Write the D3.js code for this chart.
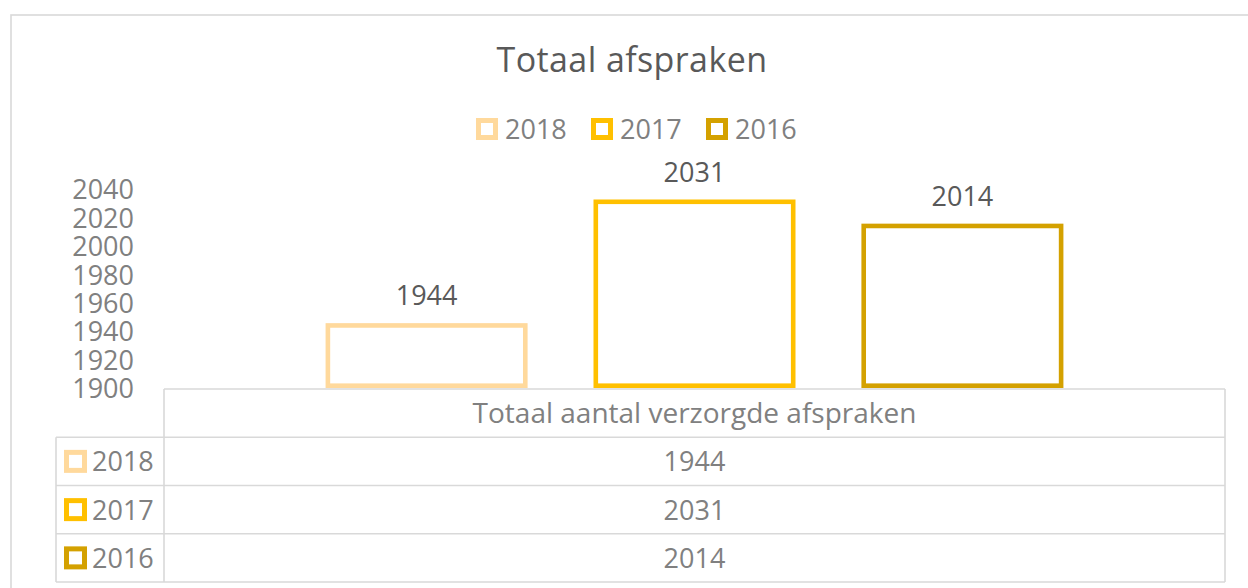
<!DOCTYPE html>
<html>
<head>
<meta charset="utf-8">
<script src="https://cdn.jsdelivr.net/npm/d3@7"></script>
<style>
  html, body { margin: 0; padding: 0; background: #fff; }
  svg { display: block; font-family: "Open Sans", sans-serif; }
</style>
</head>
<body>
<svg id="chart" width="1248" height="588"></svg>
<script>
// ---- data ----
const title = "Totaal afspraken";
const categories = ["Totaal aantal verzorgde afspraken"];
const seriesNames = ["2018", "2017", "2016"];
const seriesValues = [1944, 2031, 2014];
const yTickValues = [1900, 1920, 1940, 1960, 1980, 2000, 2020, 2040];

// ---- styles ----
const seriesColors = ["#FFD99C", "#FFC000", "#D4A100"];
const gridColor = "#D9D9D9";
const axisText = "#808080";
const darkText = "#595959";

const svg = d3.select("#chart");

// outer frame
svg.append("rect")
  .attr("x", 11).attr("y", 15)
  .attr("width", 1260).attr("height", 600)
  .attr("fill", "#fff").attr("stroke", gridColor).attr("stroke-width", 1.6);

// title
svg.append("text")
  .attr("x", 632).attr("y", 72)
  .attr("text-anchor", "middle")
  .attr("fill", darkText)
  .style("font-size", "34px")
  .style("letter-spacing", "0.4px")
  .text(title);

// legend
const legendX = d3.scalePoint().domain(seriesNames).range([476, 706]);
const legend = svg.append("g");
seriesNames.forEach((s, i) => {
  const g = legend.append("g").attr("transform", `translate(${legendX(s)},118)`);
  g.append("rect").attr("x", 2.5).attr("y", 2.5).attr("width", 17).attr("height", 17)
    .attr("fill", "#fff").attr("stroke", seriesColors[i]).attr("stroke-width", 5);
  g.append("text").attr("x", 29).attr("y", 21)
    .attr("fill", axisText).style("font-size", "27px").text(s);
});

// scales
const plotLeft = 164, plotRight = 1225, baseY = 388, topY = 189;
const y = d3.scaleLinear().domain([1900, 2040]).range([baseY, topY]);
const x0 = d3.scaleBand().domain(categories).range([plotLeft, plotRight])
  .paddingInner(0).paddingOuter(0.219);
const x1 = d3.scaleBand().domain(seriesNames).range([0, x0.bandwidth()])
  .paddingInner(0.246).paddingOuter(0);

// y axis (labels only)
const yAxis = d3.axisLeft(y).tickValues(yTickValues).tickFormat(d3.format("d"))
  .tickSize(0).tickPadding(0);
const yG = svg.append("g").attr("transform", "translate(134,0)").call(yAxis);
yG.select(".domain").remove();
yG.selectAll("text")
  .attr("fill", axisText)
  .style("font-size", "27px")
  .style("font-family", "'Open Sans', sans-serif")
  .attr("dy", "0.36em");

// bars
const sw = 4.6;
const barsG = svg.append("g");
categories.forEach(cat => {
  seriesNames.forEach((s, i) => {
    const v = seriesValues[i];
    const bx = x0(cat) + x1(s);
    barsG.append("rect")
      .attr("x", bx + sw / 2)
      .attr("y", y(v))
      .attr("width", x1.bandwidth() - sw)
      .attr("height", y(1900) - y(v) - sw / 2)
      .attr("fill", "#fff")
      .attr("stroke", seriesColors[i])
      .attr("stroke-width", sw);
    barsG.append("text")
      .attr("x", bx + x1.bandwidth() / 2)
      .attr("y", y(v) - 20)
      .attr("text-anchor", "middle")
      .attr("fill", darkText)
      .style("font-size", "27px")
      .text(v);
  });
});

// data table
const tableLeft = 56;
const rowY = d3.scaleBand().domain(["header", ...seriesNames]).range([389, 582]);
const tG = svg.append("g").attr("stroke", gridColor).attr("stroke-width", 1.6).attr("fill", "none");
tG.append("line").attr("x1", plotLeft).attr("x2", plotRight).attr("y1", rowY("header")).attr("y2", rowY("header"));
seriesNames.forEach(s => {
  tG.append("line").attr("x1", tableLeft).attr("x2", plotRight).attr("y1", rowY(s)).attr("y2", rowY(s));
});
tG.append("line").attr("x1", tableLeft).attr("x2", plotRight).attr("y1", 582).attr("y2", 582);
tG.append("line").attr("x1", plotLeft).attr("x2", plotLeft).attr("y1", rowY("header")).attr("y2", 582);
tG.append("line").attr("x1", plotRight).attr("x2", plotRight).attr("y1", rowY("header")).attr("y2", 582);
tG.append("line").attr("x1", tableLeft).attr("x2", tableLeft).attr("y1", rowY(seriesNames[0])).attr("y2", 582);

const rh = rowY.bandwidth();
categories.forEach(cat => {
  svg.append("text")
    .attr("x", x0(cat) + x0.bandwidth() / 2)
    .attr("y", rowY("header") + rh / 2 + 10)
    .attr("text-anchor", "middle")
    .attr("fill", axisText)
    .style("font-size", "28px")
    .text(cat);
});
seriesNames.forEach((s, i) => {
  const cy = rowY(s) + rh / 2;
  svg.append("rect").attr("x", 66.5).attr("y", cy - 9).attr("width", 18).attr("height", 18)
    .attr("fill", "#fff").attr("stroke", seriesColors[i]).attr("stroke-width", 5);
  svg.append("text").attr("x", 92).attr("y", cy + 10)
    .attr("fill", axisText).style("font-size", "27px").text(s);
  categories.forEach(cat => {
    svg.append("text")
      .attr("x", x0(cat) + x0.bandwidth() / 2)
      .attr("y", cy + 10)
      .attr("text-anchor", "middle")
      .attr("fill", axisText)
      .style("font-size", "27px")
      .text(seriesValues[i]);
  });
});
</script>
</body>
</html>
